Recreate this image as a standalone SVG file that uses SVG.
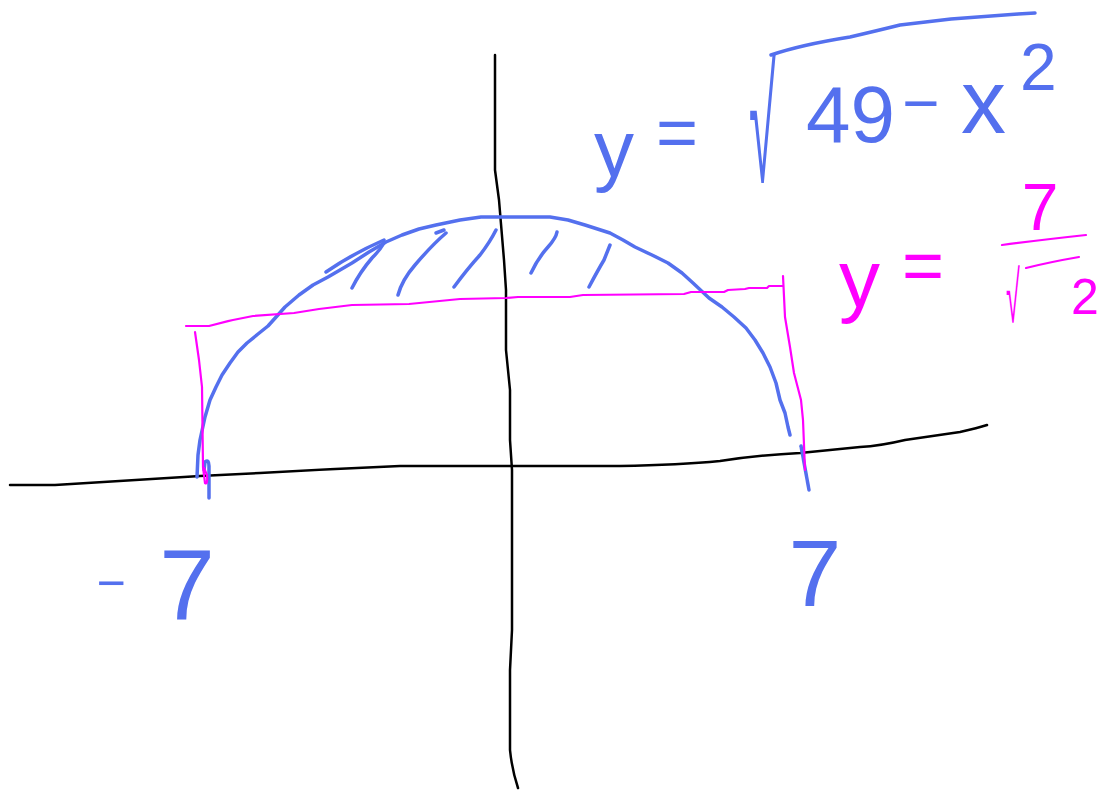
<svg xmlns="http://www.w3.org/2000/svg" width="1109" height="791" viewBox="0 0 1109 791">
<style>
.ax{fill:none;stroke:#000;stroke-width:2.5;stroke-linecap:round;stroke-linejoin:round}
.bl{fill:none;stroke:#5470EE;stroke-width:3.5;stroke-linecap:round;stroke-linejoin:round}
.pk{fill:none;stroke:#FF00FF;stroke-width:2.2;stroke-linecap:round;stroke-linejoin:round}
.tb{fill:#5470EE;font-family:"Liberation Sans",Arial,sans-serif}
.tp{fill:#FF00FF;font-family:"Liberation Sans",Arial,sans-serif}
</style>
<rect width="1109" height="791" fill="#fff"/>
<g id="axes">
<path class="ax" d="M495,55 L495,170 Q497,185 499,200 L504,260 L506,290 L506,350 L510,390 L510,440 L512,470 L512,630 L510,670 L510,750 Q512,770 518,788"/>
<path class="ax" d="M10,485 L55,485 Q120,481 200,476 L260,473 Q330,469 400,466 L620,466 Q680,465 720,461 Q760,455 800,453 L860,447 Q880,446 905,440 L960,432 Q978,428 987,425"/>
</g>
<g id="semicircle">
<polyline class="bl" points="197,477 198,455 200,440 205,417 210,400 216,387 222,375 230,363 238,352 247,343 258,334 268,326 277,316 285,307 299,295 313,285 328,277 340,270 352,263 369,252 386,242 402,235 419,229 436,225 460,220 481,217 550,217 568,220 585,225 610,233 623,240 635,247 652,255 668,263 682,273 693,283 709,298 722,307 734,317 746,328 755,340 763,353 770,367 776,383 780,400 785,413 788,427 790,435"/>
<path class="bl" d="M801,446 Q805,468 809,490"/>
<path class="bl" d="M326,272 Q352,254 384,240"/>
<path class="bl" d="M204,470 L205,462 Q209,459 209,466 L209,498"/>
</g>
<g id="hatching">
<path class="bl" d="M352,288 Q360,272 372,258 Q380,250 384,243"/>
<path class="bl" d="M398,295 Q402,280 415,265 Q432,245 446,233"/>
<path class="bl" d="M436,233 L444,230"/>
<path class="bl" d="M454,287 Q468,268 480,255 Q490,242 496,230"/>
<path class="bl" d="M531,273 Q538,258 548,247 Q556,238 557,232"/>
<path class="bl" d="M589,287 Q598,270 604,260 Q608,250 610,245"/>
</g>
<g id="rectangle">
<path class="pk" d="M186,326 L209,326 Q230,320 253,316 L294,313 L319,309 L352,305 L409,304 L460,299 L506,298 L518,297 L570,297 L583,295 L684,294 L691,292 L724,292 L728,290 L745,289 L749,288 L767,288 L769,286 L783,286"/>
<path class="pk" d="M783,276 L785,317 L790,347 L794,373 L801,400 L803,420 L805,470"/>
<path class="pk" d="M195,332 L199,360 L202,387 L203,467 L205,483 Q208,485 207,475 L204,468"/>
</g>
<g id="label-equation-circle">
<text class="tb" x="594" y="176" font-size="80">y</text>
<text class="tb" x="677" y="157" font-size="72" text-anchor="middle">=</text>
<text class="tb" transform="translate(749,182) scale(0.3,1)" font-size="163">√</text>
<path class="bl" d="M771,55 Q800,45 850,37 Q880,30 900,25 L951,19 Q990,16 1018,14 L1035,13"/>
<text class="tb" x="806" y="142" font-size="80">49</text>
<text class="tb" x="921" y="125" font-size="64" text-anchor="middle">−</text>
<text class="tb" x="961" y="133" font-size="90">x</text>
<text class="tb" x="1020" y="90" font-size="66">2</text>
</g>
<g id="label-equation-line">
<text class="tp" x="839" y="307" font-size="82">y</text>
<text class="tp" x="923" y="290" font-size="72" text-anchor="middle">=</text>
<text class="tp" x="1040" y="230" font-size="66" text-anchor="middle">7</text>
<path class="pk" d="M1002,245 Q1040,240 1086,235"/>
<text class="tp" transform="translate(1006,322) scale(0.35,1)" font-size="72">√</text>
<path class="pk" d="M1026,268 Q1050,262 1079,257"/>
<text class="tp" x="1085" y="314" font-size="50" text-anchor="middle">2</text>
</g>
<g id="label-minus-seven">
<text class="tb" x="111" y="600" font-size="50" text-anchor="middle">−</text>
<text class="tb" x="187" y="620" font-size="100" text-anchor="middle">7</text>
</g>
<g id="label-seven">
<text class="tb" x="815" y="606" font-size="95" text-anchor="middle">7</text>
</g>
</svg>
